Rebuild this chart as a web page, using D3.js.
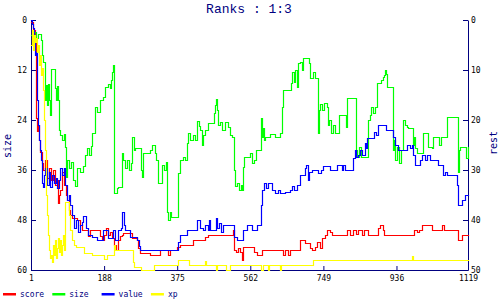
<!DOCTYPE html>
<html>
<head>
<meta charset="utf-8">
<script src="https://cdn.jsdelivr.net/npm/d3@7"></script>
<style>
body { margin: 0; background: #fff; }
svg { display: block; font-family: "DejaVu Sans Mono", monospace; }
</style>
</head>
<body>
<div id="chart"></div>
<script>
const title = "Ranks : 1:3"
const xTicks = [1, 188, 375, 562, 749, 936, 1119]
const leftTicks = [0, 12, 24, 36, 48, 60]
const rightTicks = [0, 10, 20, 30, 40, 50]
const seriesNames = ["score", "size", "value", "xp"]

// [turn, rank]; size uses the left axis, the rest the right one
const score = [[1,0.4],[6,2],[11,3],[15,19.6],[16,22.2],[19,21],[21,24],[24,26.4],[29,28.6],[32,30],[37,28],[42,31.6],[47,29.6],[52,32],[57,30],[62,33],[68,32],[70,36.6],[73,35],[75,34],[80,30.4],[85,33],[90,35],[93,36],[98,38],[101,39],[106,39.6],[119,40],[126,41],[131,42],[139,42],[147,43.2],[152,42],[170,42],[178,43.2],[183,44],[188,43],[193,41.6],[198,43],[203,42.4],[208,43.6],[213,45],[218,46],[224,44],[229,43.2],[234,43],[236,42.6],[254,42.6],[259,43.6],[272,44],[275,45.6],[280,46.6],[305,47],[331,46],[349,46],[352,47],[357,46],[374,45.4],[382,45],[415,44],[446,43.4],[454,43],[515,43],[517,42],[520,46],[525,46.4],[530,45.6],[536,46.4],[541,48],[543,45.4],[566,45.4],[571,46.4],[579,47],[592,46],[643,46],[646,47],[651,46],[658,47],[663,46],[689,44],[702,44.6],[715,45.6],[720,46],[727,45.4],[733,44.4],[740,45.6],[745,43.6],[753,43],[758,42],[766,42.4],[771,43],[809,42],[817,43],[825,42],[832,42.8],[838,42],[848,43],[853,42],[863,43],[886,43],[889,41.6],[894,41],[901,42],[904,43],[978,43],[981,42],[988,42.4],[993,42],[1001,41],[1022,41],[1027,42],[1047,42],[1053,41],[1058,42],[1091,42],[1093,44],[1101,44],[1103,43],[1119,43]]

const size = [[1,3.6],[6,6],[9,2.9],[14,4.3],[19,3.4],[27,4.8],[29,8.4],[32,10],[37,19.2],[39,15.6],[42,20.4],[44,15.4],[47,19.2],[50,22.8],[52,11.8],[62,16.3],[65,19.2],[68,15.8],[70,19.2],[72,26.4],[75,27.6],[80,28.8],[85,27.4],[88,30.5],[90,37.7],[93,33.6],[98,35.5],[103,34.1],[108,38.4],[114,39.8],[119,35.5],[126,36.5],[134,35],[139,32.4],[144,30.7],[149,32.4],[155,30.2],[157,27.1],[165,20.9],[170,22.1],[178,19.2],[185,18.5],[190,16.1],[198,15.4],[203,16.3],[206,14.4],[208,12.5],[211,10.8],[213,41.5],[221,40.3],[224,40.1],[234,31.9],[236,33.6],[241,35.5],[247,33.6],[252,36],[257,34.3],[259,28.1],[264,31.2],[267,30.7],[282,36],[285,37.7],[288,31.9],[305,31.2],[310,30],[318,31.9],[321,33.6],[326,39.1],[336,34.8],[341,36],[347,34.1],[349,46.1],[352,48],[357,46.1],[359,47.3],[378,36.7],[382,33.6],[390,32.9],[395,33.6],[400,29.5],[403,27.1],[408,28.8],[416,27.6],[421,28.8],[426,24.2],[431,25.4],[433,26.4],[439,30],[441,27.6],[446,26.4],[454,24.7],[469,22.4],[472,20.4],[474,19],[477,21.6],[479,25.2],[484,24.5],[490,26.4],[497,24.5],[505,25.7],[510,27.6],[515,28.1],[520,36],[523,39.8],[528,39.1],[533,40.8],[538,39.6],[541,40.8],[543,35.3],[546,32.9],[561,31.9],[566,34.3],[571,33.6],[577,31.2],[589,23.5],[592,28.1],[594,25.9],[597,28.8],[599,28.1],[612,27.4],[625,28.1],[638,27.1],[643,20.9],[646,16.8],[666,15.1],[669,12.5],[674,14.9],[676,12],[682,16.1],[684,10.3],[689,10.1],[694,12],[697,9.1],[712,10.3],[715,13.9],[722,12.5],[727,13.9],[735,27.1],[738,21.6],[740,20.2],[745,21.6],[750,19.9],[758,20.9],[761,25.2],[763,24],[768,27.1],[773,25.2],[778,27.1],[789,22.8],[806,25.7],[809,18.7],[832,31.2],[835,32.9],[840,30.5],[845,32.9],[863,24],[868,22.8],[871,20.9],[876,22.4],[881,20.9],[886,15.1],[896,14.4],[901,13.7],[904,13.2],[907,12],[909,13],[912,16.1],[927,31.2],[930,28.8],[932,33.6],[937,30.5],[942,34.3],[947,31.2],[952,24],[958,25.2],[963,25.7],[965,25.9],[978,30],[981,28.1],[983,30.7],[988,31.9],[1004,27.1],[1017,30.5],[1027,30.7],[1029,28.1],[1045,30],[1050,28.1],[1065,23.3],[1093,36.5],[1096,31.2],[1098,30.5],[1114,33.1],[1119,30.5]]

const value = [[1,0],[3,0.8],[6,1.6],[9,4],[11,7],[14,6.4],[16,16],[19,21],[21,24],[24,26],[27,28],[29,32.6],[32,33.4],[34,31],[37,29.6],[42,33],[47,30.4],[50,33.4],[55,31],[60,32.6],[65,31.6],[68,33.6],[73,32],[75,29.6],[80,31],[85,29.6],[88,33],[93,36],[98,35],[101,37],[106,39],[111,41.6],[116,40],[121,42.4],[126,41],[131,40.4],[134,39.2],[141,41.6],[147,43],[157,43.4],[170,44],[185,42],[198,43.6],[211,42],[216,44],[224,42],[231,41.6],[234,38.4],[239,41],[241,42],[254,43.4],[272,44],[277,45.2],[280,46],[374,46],[377,44.4],[382,43],[400,42],[426,40],[433,41.6],[441,42],[446,41],[454,42],[456,40],[459,42],[474,39.6],[477,41.6],[482,40.6],[487,42.4],[492,41],[520,43.4],[528,44],[543,42],[554,41],[566,42],[579,41],[589,37],[592,34],[597,32.6],[602,33.6],[607,32.6],[617,34],[625,34.6],[633,34],[638,34.6],[651,34.4],[663,34],[669,33.2],[674,34],[681,33],[689,31],[702,29.6],[704,29],[710,32],[712,30.4],[720,30],[735,30.6],[743,30],[748,29.2],[766,30],[784,29],[796,30],[799,29],[804,30],[825,27.6],[830,26],[832,27.4],[838,27],[843,26],[848,27],[855,24.6],[858,25.6],[860,23.6],[878,22.4],[883,23],[889,21],[909,22],[927,23.4],[932,25],[940,26],[963,25],[970,25.6],[976,25],[978,27],[983,29],[996,28],[1001,27],[1009,28],[1014,27],[1022,28],[1042,29],[1055,31],[1060,30.4],[1065,31],[1091,33],[1093,37],[1103,36],[1111,35],[1119,35]]

const xp = [[1,5],[3,2],[6,6],[9,3],[11,4.4],[14,3.6],[16,6.4],[19,5],[21,9],[24,7],[27,11],[29,9.6],[32,14],[34,20],[37,26],[39,35],[42,39],[44,43],[47,46],[50,47.6],[52,47],[55,48.4],[57,45],[60,47],[62,44],[65,47.6],[68,45.6],[70,43.6],[73,46.4],[75,44],[78,47],[80,45],[83,43],[85,46],[88,36.4],[98,39],[101,42],[106,44],[111,45],[116,45.4],[136,46.6],[157,47],[188,47.8],[195,47],[213,45],[216,46],[262,48.4],[264,49.4],[282,50],[316,49],[377,48],[405,49],[447,48.2],[449,49],[474,50],[477,49],[500,50],[510,49],[589,50],[594,49],[608,50],[610,49],[639,50],[640,49],[722,48],[977,47.2],[978,48],[1119,48]]

const W = 500, H = 300
const navy = "#000080"
const colors = { score: "#ff0000", size: "#00ff00", value: "#0000ff", xp: "#ffff00" }

const svg = d3.select("#chart").append("svg")
    .attr("width", W)
    .attr("height", H)

const x = d3.scaleLinear().domain([1, 1119]).range([31, 468])
const yLeft = d3.scaleLinear().domain([0, 60]).range([20, 270])
const yRight = d3.scaleLinear().domain([0, 50]).range([20, 270])

// snap to pixel centres so the 1px steps stay sharp
const px = v => Math.round(v) + 0.5

svg.append("text")
    .attr("x", 249).attr("y", 13)
    .attr("text-anchor", "middle")
    .attr("font-size", 13)
    .attr("font-family", "Liberation Mono, monospace")
    .attr("fill", navy)
    .text(title)

// axes
function styleAxis(g) {
    g.selectAll("path, line").attr("stroke", navy)
    g.selectAll("text").attr("fill", "#000").attr("font-size", 8)
        .attr("font-family", "DejaVu Sans Mono, monospace")
}

svg.append("g")
    .attr("transform", "translate(0,270)")
    .call(d3.axisBottom(x).tickValues(xTicks).tickFormat(d3.format("d"))
        .tickSize(-4).tickSizeOuter(0).tickPadding(5))
    .call(styleAxis)

svg.append("g")
    .attr("transform", "translate(31,0)")
    .call(d3.axisLeft(yLeft).tickValues(leftTicks).tickSize(-5).tickSizeOuter(0).tickPadding(4))
    .call(styleAxis)

svg.append("g")
    .attr("transform", "translate(468,0)")
    .call(d3.axisRight(yRight).tickValues(rightTicks).tickSize(-5).tickSizeOuter(0).tickPadding(3))
    .call(styleAxis)

svg.append("text")
    .attr("transform", "translate(11,146) rotate(-90)")
    .attr("text-anchor", "middle")
    .attr("font-size", 10)
    .attr("fill", navy)
    .text("size")

svg.append("text")
    .attr("transform", "translate(497,143) rotate(-90)")
    .attr("text-anchor", "middle")
    .attr("font-size", 10)
    .attr("fill", navy)
    .text("rest")

// lines
const data = { score, size, value, xp }
seriesNames.forEach(name => {
    const y = name === "size" ? yLeft : yRight
    const line = d3.line()
        .x(d => px(x(d[0])))
        .y(d => px(y(d[1])))
        .curve(d3.curveStepAfter)
    svg.append("path")
        .datum(data[name])
        .attr("d", line)
        .attr("fill", "none")
        .attr("stroke", colors[name])
        .attr("stroke-width", 1.2)
        .attr("stroke-linecap", "square")
})

// legend
const legend = svg.append("g")
    .selectAll("g")
    .data(seriesNames)
    .enter()
    .append("g")
    .attr("transform", (d, i) => `translate(${3 + i * 49.3},0)`)

legend.append("rect")
    .attr("x", 0).attr("y", 293)
    .attr("width", 13).attr("height", 2.5)
    .attr("fill", d => colors[d])

legend.append("text")
    .attr("x", 17).attr("y", 297)
    .attr("font-size", 8)
    .attr("fill", navy)
    .text(d => d)
</script>
</body>
</html>
